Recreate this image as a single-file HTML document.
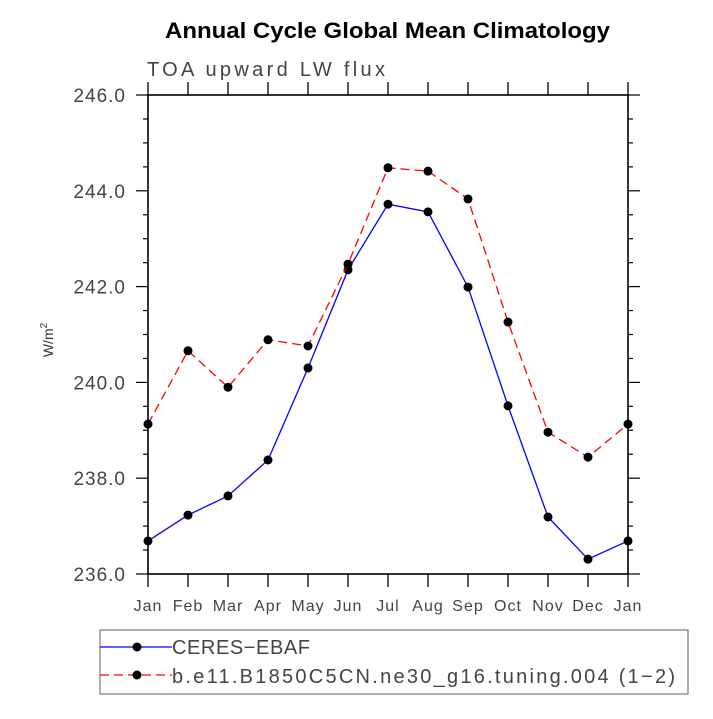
<!DOCTYPE html>
<html><head><meta charset="utf-8"><style>
body{margin:0;background:#fff;}
text{font-family:"Liberation Sans",sans-serif;}
</style></head><body>
<svg width="713" height="714" viewBox="0 0 713 714">
<text x="165" y="38" textLength="445" lengthAdjust="spacingAndGlyphs" font-size="22" font-weight="bold" fill="#000">Annual Cycle Global Mean Climatology</text>
<text x="147" y="76" textLength="238" lengthAdjust="spacing" font-size="20" fill="#444">TOA upward LW flux</text>
<text transform="translate(53,340) rotate(-90)" text-anchor="middle" font-size="14" fill="#333">W/m<tspan dy="-6" font-size="10">2</tspan></text>
<g id="axes"></g>
<g id="series"></g>
<g id="legend">
<rect x="100" y="630" width="588" height="64" fill="none" stroke="#777" stroke-width="1.2"/>
<line x1="100" y1="647" x2="172" y2="647" stroke="#0000ff" stroke-width="1.3"/>
<circle cx="137" cy="647" r="4.5" fill="#000"/>
<text x="172" y="654" textLength="138" lengthAdjust="spacing" font-size="20" fill="#444">CERES−EBAF</text>
<line x1="100" y1="675" x2="172" y2="675" stroke="#ff0000" stroke-width="1.3" stroke-dasharray="9,5"/>
<circle cx="137" cy="675" r="4.5" fill="#000"/>
<text x="172" y="683" textLength="503" lengthAdjust="spacing" font-size="20" fill="#444">b.e11.B1850C5CN.ne30_g16.tuning.004 (1−2)</text>
</g>
</svg>
<script>
const months=["Jan","Feb","Mar","Apr","May","Jun","Jul","Aug","Sep","Oct","Nov","Dec","Jan"];
const ceres=[236.69,237.23,237.63,238.38,240.30,242.35,243.72,243.56,241.99,239.51,237.19,236.31,236.69];
const model=[239.13,240.66,239.90,240.89,240.76,242.47,244.48,244.41,243.83,241.26,238.96,238.44,239.13];
const yTicks=[236,238,240,242,244,246];
const NS="http://www.w3.org/2000/svg";
const L=148,R=628,T=95,B=574,ymin=236,ymax=246;
const xs=i=>L+i*(R-L)/(months.length-1);
const ys=v=>B-(v-ymin)/(ymax-ymin)*(B-T);
function mk(tag,attrs,parent){const e=document.createElementNS(NS,tag);for(const k in attrs)e.setAttribute(k,attrs[k]);parent.appendChild(e);return e;}
const ax=document.getElementById('axes');
const frame=mk('rect',{x:L,y:T,width:R-L,height:B-T,fill:'none',stroke:'#000','stroke-width':1.6},ax);


months.forEach((m,i)=>{
  const x=xs(i);
  mk('line',{x1:x,y1:B,x2:x,y2:B+13,stroke:'#000','stroke-width':1.3},ax);
  mk('line',{x1:x,y1:T,x2:x,y2:T-13,stroke:'#000','stroke-width':1.3},ax);
  const t=mk('text',{x:x,y:B+37,'text-anchor':'middle','font-size':16,'letter-spacing':1,fill:'#444'},ax);
  t.textContent=m;
  
  
});
for(let v=ymin;v<=ymax+1e-9;v+=0.5){
  const y=ys(v);const major=Math.abs(v-Math.round(v/2)*2)<1e-6;
  const len=major?12:5;
  mk('line',{x1:L,y1:y,x2:L-len,y2:y,stroke:'#000','stroke-width':1.2},ax);
  mk('line',{x1:R,y1:y,x2:R+len,y2:y,stroke:'#000','stroke-width':1.2},ax);
}
yTicks.forEach(v=>{
  const t=mk('text',{x:L-22,y:ys(v)+7,'text-anchor':'end','font-size':19,'letter-spacing':1,fill:'#444'},ax);
  t.textContent=v.toFixed(1);
  
  
});
const sg=document.getElementById('series');
function series(vals,color,dash,name){
  const p=mk('polyline',{points:vals.map((v,i)=>xs(i)+','+ys(v)).join(' '),fill:'none',stroke:color,'stroke-width':1.3,'stroke-dasharray':dash},sg);
  
  
  vals.forEach((v,i)=>{
    const c=mk('circle',{cx:xs(i),cy:ys(v),r:4.5,fill:'#000'},sg);
    
    
  });
}
series(ceres,'#0000ff','none','ceres');
series(model,'#ff0000','9,5','model');
</script>
</body></html>
